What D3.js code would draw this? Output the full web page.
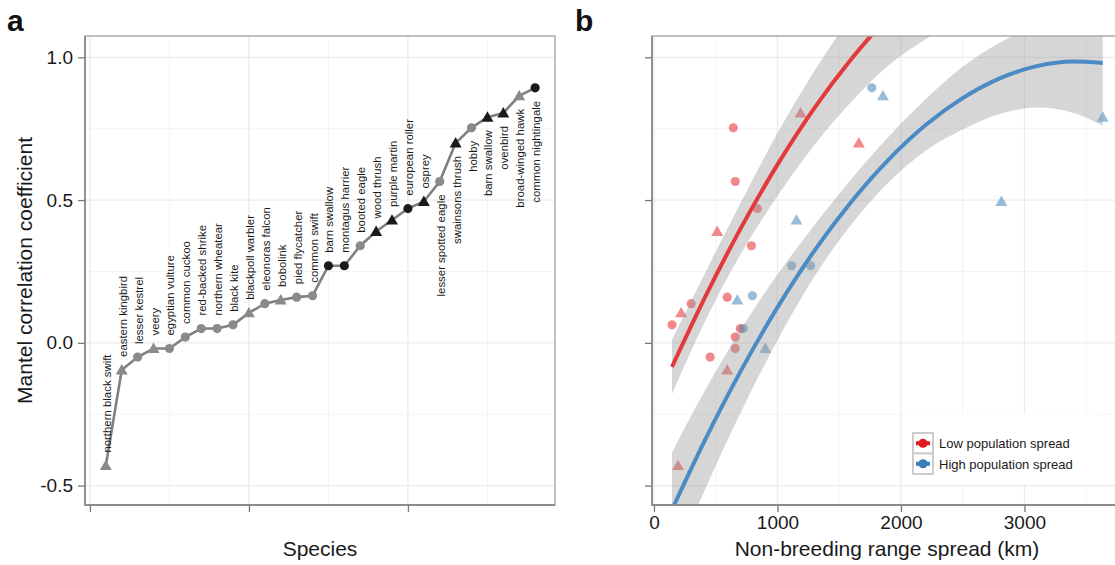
<!DOCTYPE html>
<meta charset="utf-8">
<script src="https://d3js.org/d3.v7.min.js"></script>
<style>
  body { margin: 0; background: #fff; }
  text { font-family: "Liberation Sans", Arial, sans-serif; }
</style>
<div id="my_dataviz"></div>
<script>
// species, ordered by Mantel coefficient (panel a)
const species = ["northern black swift", "eastern kingbird", "lesser kestrel", "veery", "egyptian vulture",
  "common cuckoo", "red-backed shrike", "northern wheatear", "black kite", "blackpoll warbler",
  "eleonoras falcon", "bobolink", "pied flycatcher", "common swift", "barn swallow", "montagus harrier",
  "booted eagle", "wood thrush", "purple martin", "european roller", "osprey", "lesser spotted eagle",
  "swainsons thrush", "hobby", "barn swallow", "ovenbird", "broad-winged hawk", "common nightingale"]
const mantel = [-0.43, -0.095, -0.05, -0.02, -0.02, 0.02, 0.05, 0.05, 0.063, 0.105, 0.137, 0.15, 0.16, 0.165,
  0.27, 0.27, 0.34, 0.39, 0.43, 0.47, 0.495, 0.565, 0.70, 0.753, 0.79, 0.805, 0.865, 0.893]
const shape = ["tri", "tri", "circle", "tri", "circle", "circle", "circle", "circle", "circle", "tri", "circle",
  "tri", "circle", "circle", "circle", "circle", "circle", "tri", "tri", "circle", "tri", "circle", "tri",
  "circle", "tri", "tri", "tri", "circle"]
const significant = [0, 0, 0, 0, 0, 0, 0, 0, 0, 0, 0, 0, 0, 0, 1, 1, 0, 1, 1, 1, 1, 0, 1, 0, 1, 1, 0, 1]
// panel b
const rangeSpread = [195, 593, 455, 902, 658, 658, 699, 724, 146, 220, 301, 675, 593, 797, 1114, 1268, 789, 512,
  1154, 837, 2813, 658, 1659, 642, 3634, 1187, 1854, 1764]
const popSpread = ["Low", "Low", "Low", "High", "Low", "Low", "Low", "High", "Low", "Low", "Low", "High", "Low",
  "High", "High", "High", "Low", "Low", "High", "Low", "High", "Low", "Low", "Low", "High", "Low", "High", "High"]

// fitted curves (x, fit, half width of band)
const lowX = [146, 400, 700, 1000, 1300, 1600, 1900, 2200, 2500]
const lowFit = [-0.084, 0.148, 0.399, 0.624, 0.823, 0.995, 1.142, 1.263, 1.357]
const lowSE = [0.095, 0.085, 0.09, 0.11, 0.13, 0.15, 0.17, 0.20, 0.22]
const highX = [146, 400, 700, 1000, 1300, 1600, 1900, 2200, 2500, 2800, 3100, 3400, 3634]
const highFit = [-0.584, -0.352, -0.101, 0.124, 0.323, 0.495, 0.642, 0.763, 0.857, 0.926, 0.969, 0.985, 0.98]
const highSE = [0.20, 0.175, 0.145, 0.115, 0.09, 0.08, 0.08, 0.09, 0.11, 0.125, 0.145, 0.18, 0.22]

const yTicks = [-0.5, 0.0, 0.5, 1.0]
const xTicksB = [0, 1000, 2000, 3000]
const groups = ["Low", "High"]
const groupLabels = ["Low population spread", "High population spread"]
const groupColors = ["#E41A1C", "#377EB8"]

const W = 1115, H = 565
const pTop = 36, pBottom = 505

const svg = d3.select("#my_dataviz").append("svg")
  .attr("width", W).attr("height", H)

const y = d3.scaleLinear().domain([-0.568, 1.0746]).range([pBottom, pTop])

const xa = d3.scaleLinear().domain([-0.31, 29.25]).range([85, 555])
const xb = d3.scaleLinear().domain([-16, 3790]).range([652, 1122])

const gridMajor = "#ebebeb", gridMinor = "#f4f4f4"
const yMinor = [-0.25, 0.25, 0.75]

function panel(g, x, xMajor, xMinor) {
  const [x0, x1] = x.range()
  g.append("rect").attr("x", x0).attr("y", pTop).attr("width", x1 - x0).attr("height", pBottom - pTop)
    .attr("fill", "#fff")
  g.selectAll(".gy2").data(yMinor).enter().append("line")
    .attr("x1", x0).attr("x2", x1).attr("y1", d => y(d)).attr("y2", d => y(d))
    .attr("stroke", gridMinor).attr("stroke-width", 1)
  g.selectAll(".gx2").data(xMinor).enter().append("line")
    .attr("x1", d => x(d)).attr("x2", d => x(d)).attr("y1", pTop).attr("y2", pBottom)
    .attr("stroke", gridMinor).attr("stroke-width", 1)
  g.selectAll(".gy").data(yTicks).enter().append("line")
    .attr("x1", x0).attr("x2", x1).attr("y1", d => y(d)).attr("y2", d => y(d))
    .attr("stroke", gridMajor).attr("stroke-width", 1.3)
  g.selectAll(".gx").data(xMajor).enter().append("line")
    .attr("x1", d => x(d)).attr("x2", d => x(d)).attr("y1", pTop).attr("y2", pBottom)
    .attr("stroke", gridMajor).attr("stroke-width", 1.3)
}

function frame(g, x) {
  const [x0, x1] = x.range()
  g.append("rect").attr("x", x0).attr("y", pTop).attr("width", x1 - x0).attr("height", pBottom - pTop)
    .attr("fill", "none").attr("stroke", "#a6a6a6").attr("stroke-width", 1.4)
  g.append("line").attr("x1", x0).attr("x2", x0).attr("y1", pTop).attr("y2", pBottom + 0.7)
    .attr("stroke", "#8c8c8c").attr("stroke-width", 1.8)
  g.append("line").attr("x1", x0).attr("x2", x1).attr("y1", pBottom).attr("y2", pBottom)
    .attr("stroke", "#8c8c8c").attr("stroke-width", 1.8)
}

function styleAxis(sel) {
  sel.select(".domain").remove()
  sel.selectAll(".tick line").attr("stroke", "#7a7a7a").attr("stroke-width", 1.3)
  sel.selectAll(".tick text").attr("fill", "#1a1a1a").style("font-size", "19px")
}

// ---------- panel a ----------
const ga = svg.append("g")
panel(ga, xa, [0, 10, 20], [5, 15, 25])

const pts = species.map((s, i) => ({ name: s, i: i + 1, v: mantel[i], shape: shape[i], sig: significant[i],
  x: rangeSpread[i], group: popSpread[i] }))

ga.append("path").datum(pts)
  .attr("d", d3.line().x(d => xa(d.i)).y(d => y(d.v)))
  .attr("fill", "none").attr("stroke", "#808080").attr("stroke-width", 2.6)

const sym = d => d.shape === "tri"
  ? d3.symbol(d3.symbolTriangle, 62)()
  : d3.symbol(d3.symbolCircle, 66)()

ga.selectAll(".pa").data(pts).enter().append("path")
  .attr("d", sym)
  .attr("transform", d => "translate(" + xa(d.i) + "," + (y(d.v) + (d.shape === "tri" ? 1 : 0)) + ")")
  .attr("fill", d => d.sig ? "#1a1a1a" : "#8a8a8a")

ga.selectAll(".la").data(pts).enter().append("text")
  .text(d => d.name)
  .attr("transform", d => {
    const below = d.i > 21
    return "translate(" + (xa(d.i) + 1) + "," + (y(d.v) + (below ? 13 : -13)) + ") rotate(-90)"
  })
  .attr("text-anchor", d => d.i > 21 ? "end" : "start")
  .attr("dominant-baseline", "central")
  .attr("fill", "#1a1a1a")
  .style("font-size", "11.4px")

frame(ga, xa)

ga.append("g").attr("transform", "translate(85,0)")
  .call(d3.axisLeft(y).tickValues(yTicks).tickFormat(d3.format(".1f")).tickSize(7).tickPadding(5))
  .call(styleAxis)
  .selectAll(".tick text").text(d => d < 0 ? "-" + d3.format(".1f")(-d) : d3.format(".1f")(d))

ga.append("g").attr("transform", "translate(0," + pBottom + ")")
  .call(d3.axisBottom(xa).tickValues([0, 10, 20]).tickFormat("").tickSize(7))
  .call(styleAxis)

ga.append("text").text("Species")
  .attr("x", 320).attr("y", 556).attr("text-anchor", "middle")
  .attr("fill", "#1a1a1a").style("font-size", "21px")

ga.append("text").text("Mantel correlation coefficient")
  .attr("transform", "translate(32," + (pTop + pBottom) / 2 + ") rotate(-90)")
  .attr("text-anchor", "middle").attr("fill", "#1a1a1a").style("font-size", "21px")

// ---------- panel b ----------
const gb = svg.append("g")
panel(gb, xb, [0, 1000, 2000, 3000], [500, 1500, 2500, 3500])

svg.append("clipPath").attr("id", "clipb").append("rect")
  .attr("x", 652).attr("y", pTop).attr("width", 470).attr("height", pBottom - pTop)

const plotb = gb.append("g").attr("clip-path", "url(#clipb)")
const color = d3.scaleOrdinal().domain(groups).range(groupColors)

plotb.selectAll(".pb").data(pts).enter().append("path")
  .attr("d", sym)
  .attr("transform", d => "translate(" + xb(d.x) + "," + (y(d.v) + (d.shape === "tri" ? 1 : 0)) + ")")
  .attr("fill", d => color(d.group))
  .attr("fill-opacity", 0.52)

const fits = [
  { group: "Low", xs: lowX, fit: lowFit, se: lowSE },
  { group: "High", xs: highX, fit: highFit, se: highSE }
].map(f => ({ group: f.group, rows: f.xs.map((x, i) => ({ x: x, fit: f.fit[i], lo: f.fit[i] - f.se[i], hi: f.fit[i] + f.se[i] })) }))

plotb.selectAll(".band").data(fits).enter().append("path")
  .attr("d", f => d3.area().curve(d3.curveMonotoneX)
    .x(d => xb(d.x)).y0(d => y(d.lo)).y1(d => y(d.hi))(f.rows))
  .attr("fill", "#999999").attr("fill-opacity", 0.4)

plotb.selectAll(".fit").data(fits).enter().append("path")
  .attr("d", f => d3.line().curve(d3.curveMonotoneX).x(d => xb(d.x)).y(d => y(d.fit))(f.rows))
  .attr("fill", "none")
  .attr("stroke", f => f.group === "Low" ? "#E3393A" : "#4B8BC5")
  .attr("stroke-width", 4)

frame(gb, xb)

gb.append("g").attr("transform", "translate(652,0)")
  .call(d3.axisLeft(y).tickValues(yTicks).tickFormat("").tickSize(7))
  .call(styleAxis)

gb.append("g").attr("transform", "translate(0," + pBottom + ")")
  .call(d3.axisBottom(xb).tickValues(xTicksB).tickFormat(d3.format("d")).tickSize(7).tickPadding(4))
  .call(styleAxis)

gb.append("text").text("Non-breeding range spread (km)")
  .attr("x", (654 + 1122) / 2 - 1).attr("y", 556).attr("text-anchor", "middle")
  .attr("fill", "#1a1a1a").style("font-size", "21px")

// legend
const lg = gb.append("g").attr("transform", "translate(902,414)")
lg.append("rect").attr("width", 196).attr("height", 70).attr("fill", "#fff")
groups.forEach((g, i) => {
  const ky = 19 + i * 20.5
  lg.append("rect").attr("x", 11).attr("y", ky).attr("width", 20).attr("height", 20.5)
    .attr("fill", "#fff").attr("stroke", "#cccccc").attr("stroke-width", 2)
  lg.append("line").attr("x1", 14).attr("x2", 28).attr("y1", ky + 10.25).attr("y2", ky + 10.25)
    .attr("stroke", groupColors[i]).attr("stroke-width", 4)
  lg.append("circle").attr("cx", 21).attr("cy", ky + 10.25).attr("r", 4.6).attr("fill", groupColors[i])
  lg.append("text").text(groupLabels[i]).attr("x", 37).attr("y", ky + 15)
    .attr("fill", "#1a1a1a").style("font-size", "13px")
})

// panel letters
svg.append("text").text("a").attr("x", 7).attr("y", 31)
  .style("font-size", "30px").style("font-weight", "bold").attr("fill", "#111")
svg.append("text").text("b").attr("x", 575).attr("y", 31)
  .style("font-size", "30px").style("font-weight", "bold").attr("fill", "#111")
</script>
